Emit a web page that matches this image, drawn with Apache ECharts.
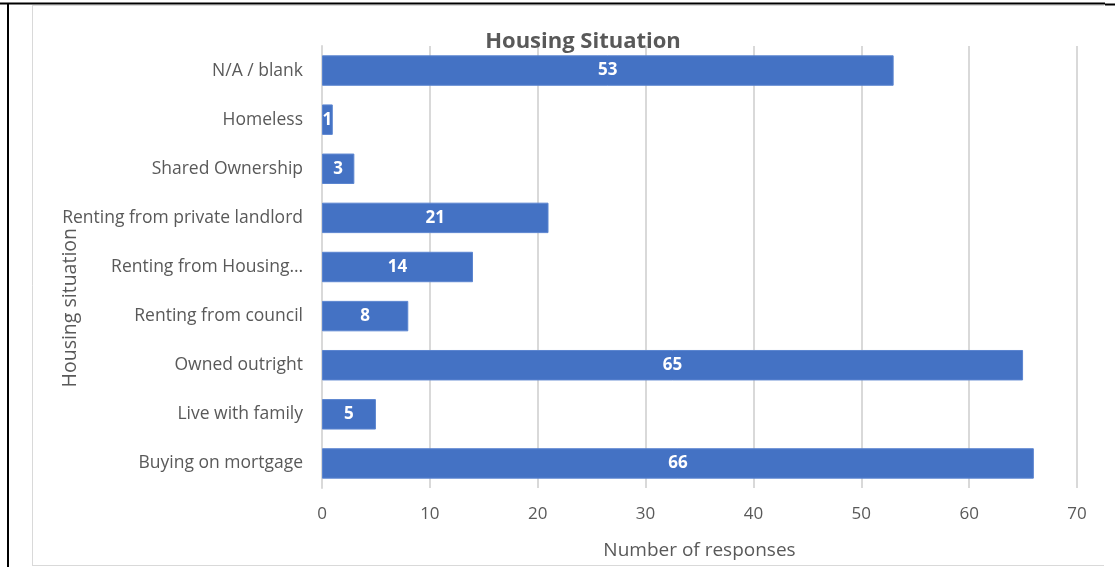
<!DOCTYPE html>
<html>
<head>
<meta charset="utf-8">
<script src="https://cdn.jsdelivr.net/npm/echarts@6/dist/echarts.min.js"></script>
<style>
html,body{margin:0;padding:0;background:#fff;}
#chart{width:1115px;height:567px;}
</style>
</head>
<body>
<div id="chart"></div>
<script>
const categories = [
  "Buying on mortgage",
  "Live with family",
  "Owned outright",
  "Renting from council",
  "Renting from Housing\u2026",
  "Renting from private landlord",
  "Shared Ownership",
  "Homeless",
  "N/A / blank"
];
const responses = [66, 5, 65, 8, 14, 21, 3, 1, 53];
const xTicks = [0, 10, 20, 30, 40, 50, 60, 70];

const FONT = "'Open Sans', sans-serif";
const chart = echarts.init(document.getElementById('chart'), null, {renderer: 'canvas'});
chart.setOption({
  animation: false,
  backgroundColor: '#ffffff',
  title: {
    text: 'Housing Situation',
    left: 578,
    textAlign: 'center',
    top: 26,
    textStyle: {fontFamily: FONT, fontSize: 22, fontWeight: 'bold', color: '#595959'}
  },
  grid: {left: 322, right: 38, top: 46, bottom: 79, containLabel: false},
  xAxis: {
    type: 'value',
    min: xTicks[0],
    max: xTicks[xTicks.length - 1],
    interval: 10,
    name: 'Number of responses',
    nameLocation: 'middle',
    nameGap: 53,
    nameTextStyle: {fontFamily: FONT, fontSize: 19, color: '#595959'},
    axisLine: {show: false},
    axisTick: {show: false},
    axisLabel: {fontFamily: FONT, fontSize: 17, color: '#595959', margin: 18},
    splitLine: {show: true, lineStyle: {color: '#d9d9d9', width: 2}}
  },
  yAxis: {
    type: 'category',
    data: categories,
    axisLine: {show: true, lineStyle: {color: '#d9d9d9', width: 2}},
    axisTick: {show: false},
    axisLabel: {fontFamily: FONT, fontSize: 17.5, color: '#595959', margin: 19}
  },
  graphic: [
    {type: 'text', left: 60, top: 228, rotation: Math.PI / 2,
     style: {text: 'Housing situation', fontFamily: FONT, fontSize: 19.5, fill: '#595959'}},
    {type: 'line', shape: {x1: 0, y1: 3.5, x2: 1105, y2: 3.5}, style: {stroke: '#000', lineWidth: 2}},
    {type: 'line', shape: {x1: 1105, y1: 4.5, x2: 1115, y2: 4.5}, style: {stroke: '#000', lineWidth: 2}},
    {type: 'line', shape: {x1: 8, y1: 3, x2: 8, y2: 567}, style: {stroke: '#000', lineWidth: 2}},
    {type: 'line', shape: {x1: 32.5, y1: 5.5, x2: 32.5, y2: 566}, style: {stroke: '#d9d9d9', lineWidth: 1}},
    {type: 'line', shape: {x1: 32, y1: 5.5, x2: 1104, y2: 5.5}, style: {stroke: '#d9d9d9', lineWidth: 1}},
    {type: 'line', shape: {x1: 32, y1: 565.5, x2: 1104, y2: 565.5}, style: {stroke: '#d9d9d9', lineWidth: 1}}
  ],
  series: [{
    type: 'bar',
    data: responses,
    barCategoryGap: '38%',
    itemStyle: {color: '#4472C4', borderColor: '#5b85d0', borderWidth: 1},
    label: {
      show: true,
      position: 'inside',
      fontFamily: FONT,
      fontSize: 17,
      fontWeight: 'bold',
      color: '#ffffff'
    },
    z: 3
  }]
});
</script>
</body>
</html>
